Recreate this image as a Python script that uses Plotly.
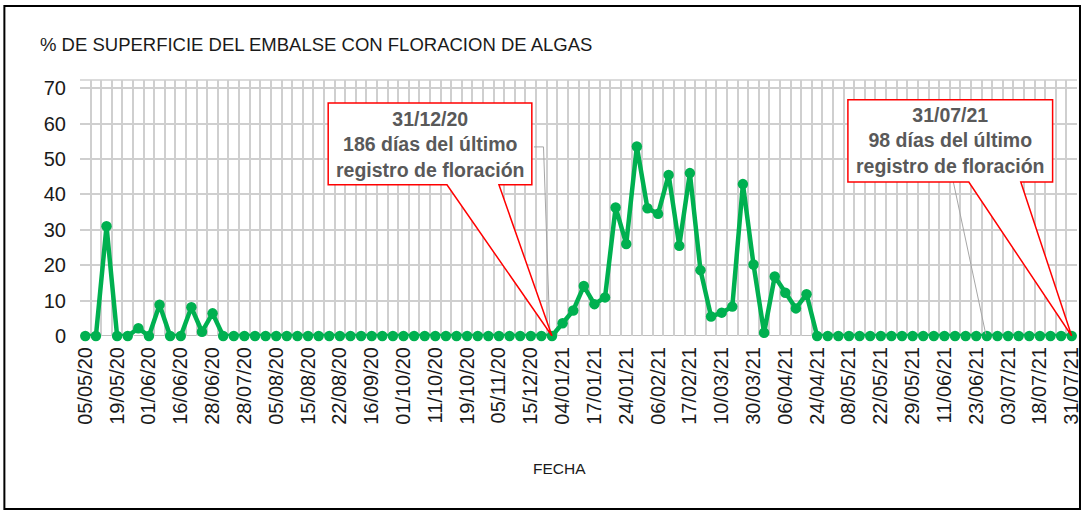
import plotly.graph_objects as go

# ---- data ----
DATES = [
    "05/05/20", "09/05/20", "14/05/20", "19/05/20", "23/05/20", "27/05/20",
    "01/06/20", "06/06/20", "11/06/20", "16/06/20", "20/06/20", "24/06/20",
    "28/06/20", "08/07/20", "18/07/20", "28/07/20", "31/07/20", "02/08/20",
    "05/08/20", "08/08/20", "12/08/20", "15/08/20", "17/08/20", "20/08/20",
    "22/08/20", "31/08/20", "08/09/20", "16/09/20", "21/09/20", "26/09/20",
    "01/10/20", "04/10/20", "08/10/20", "11/10/20", "14/10/20", "16/10/20",
    "19/10/20", "25/10/20", "30/10/20", "05/11/20", "18/11/20", "02/12/20",
    "15/12/20", "23/12/20", "31/12/20", "04/01/21", "08/01/21", "13/01/21",
    "17/01/21", "20/01/21", "22/01/21", "24/01/21", "28/01/21", "02/02/21",
    "06/02/21", "10/02/21", "13/02/21", "17/02/21", "24/02/21", "03/03/21",
    "10/03/21", "17/03/21", "23/03/21", "30/03/21", "01/04/21", "04/04/21",
    "06/04/21", "12/04/21", "18/04/21", "24/04/21", "29/04/21", "04/05/21",
    "08/05/21", "13/05/21", "17/05/21", "22/05/21", "24/05/21", "27/05/21",
    "29/05/21", "02/06/21", "07/06/21", "11/06/21", "15/06/21", "19/06/21",
    "23/06/21", "26/06/21", "30/06/21", "03/07/21", "08/07/21", "13/07/21",
    "18/07/21", "22/07/21", "27/07/21", "31/07/21",
]

PCT_BLOOM = [
    0, 0, 31, 0, 0, 2.2, 0, 8.8, 0, 0, 8.1, 1.2,
    6.4, 0, 0, 0, 0, 0, 0, 0, 0, 0, 0, 0,
    0, 0, 0, 0, 0, 0, 0, 0, 0, 0, 0, 0,
    0, 0, 0, 0, 0, 0, 0, 0, 0, 3.6, 7.2, 14.1,
    9.0, 10.9, 36.3, 26.0, 53.5, 36.1, 34.5, 45.5, 25.5, 46.0, 18.6, 5.5,
    6.6, 8.3, 42.9, 20.2, 0.9, 16.8, 12.2, 7.8, 11.8, 0, 0, 0,
    0, 0, 0, 0, 0, 0, 0, 0, 0, 0, 0, 0,
    0, 0, 0, 0, 0, 0, 0, 0, 0, 0,
]

TICK_LABELS = [
    "05/05/20", "19/05/20", "01/06/20", "16/06/20", "28/06/20", "28/07/20",
    "05/08/20", "15/08/20", "22/08/20", "16/09/20", "01/10/20", "11/10/20",
    "19/10/20", "05/11/20", "15/12/20", "04/01/21", "17/01/21", "24/01/21",
    "06/02/21", "17/02/21", "10/03/21", "30/03/21", "06/04/21", "24/04/21",
    "08/05/21", "22/05/21", "29/05/21", "11/06/21", "23/06/21", "03/07/21",
    "18/07/21", "31/07/21",
]

Y_TICKS = [0, 10, 20, 30, 40, 50, 60, 70]

CALLOUTS = [
    {"date": "31/12/20", "text": "31/12/20<br>186 días del último<br>registro de floración"},
    {"date": "31/07/21", "text": "31/07/21<br>98 días del último<br>registro de floración"},
]

# ---- layout geometry ----
W, H = 1089, 512
ML, MR, MT, MB = 80, 7, 80, 176
PW, PH = W - ML - MR, H - MT - MB

x_idx = list(range(len(DATES)))
tickvals = [DATES.index(t) for t in TICK_LABELS]

fig = go.Figure()
fig.add_trace(go.Scatter(
    x=x_idx, y=PCT_BLOOM, mode="lines+markers",
    line=dict(color="#00B050", width=4.5),
    marker=dict(color="#00B050", size=10.5),
    cliponaxis=False, hoverinfo="skip", showlegend=False,
))

GRID = "#cfcfcf"
fig.update_layout(
    width=W, height=H,
    margin=dict(l=ML, r=MR, t=MT, b=MB),
    paper_bgcolor="white", plot_bgcolor="white",
    font=dict(family="Liberation Sans, Arial, sans-serif", color="#1a1a1a"),
    title=dict(text="% DE SUPERFICIE DEL EMBALSE CON FLORACION DE ALGAS",
               x=40 / W, y=1 - 45 / H, xanchor="left", yanchor="middle",
               font=dict(size=18.5, color="#1a1a1a")),
    xaxis=dict(
        range=[-0.5, len(DATES) - 0.5],
        tickmode="array", tickvals=tickvals, ticktext=TICK_LABELS,
        tickangle=-90, tickfont=dict(size=20, color="#1a1a1a"),
        showgrid=False, ticks="", zeroline=False,
        showline=False,
        minor=dict(tickmode="linear", tick0=-0.5, dtick=1, showgrid=True,
                   gridcolor=GRID, gridwidth=1.5, ticks=""),
        ticklabelstandoff=6,
    ),
    yaxis=dict(
        range=[0, 72.3], tickmode="array", tickvals=Y_TICKS,
        tickfont=dict(size=20, color="#1a1a1a"),
        showgrid=True, gridcolor=GRID, gridwidth=1.5,
        zeroline=False, ticks="", showline=False,
        ticklabelstandoff=13,
    ),
)

shapes = []
# top border of plot area
shapes.append(dict(type="line", xref="paper", yref="paper", x0=0, x1=1, y0=1, y1=1,
                   line=dict(color=GRID, width=1.5), layer="below"))
# zero axis line
shapes.append(dict(type="line", xref="paper", yref="y", x0=0, x1=1, y0=0, y1=0,
                   line=dict(color="#bfbfbf", width=2), layer="below"))

# callouts (box geometry in data units, tip at the data point)
boxes = [
    dict(x0=22.9, x1=42.1, y0=42.7, y1=65.8, b0=34.1, b1=39.0, tx=32.5, ty=54.2,
         lead=[(42.3, 53.4), (43.2, 53.4), (43.8, 1.0)]),
    dict(x0=71.9, x1=91.2, y0=43.5, y1=66.7, b0=83.3, b1=88.2, tx=81.55, ty=55.1,
         lead=[(81.6, 46.9), (84.9, 0.5)]),
]
annotations = []
for c, b in zip(CALLOUTS, boxes):
    i = DATES.index(c["date"])
    tip_x, tip_y = x_idx[i], PCT_BLOOM[i]
    lead = " L ".join(f"{px},{py}" for px, py in b["lead"][1:])
    shapes.append(dict(type="path", xref="x", yref="y",
                       path=f"M {b['lead'][0][0]},{b['lead'][0][1]} L {lead}",
                       line=dict(color="#a6a6a6", width=1), layer="above"))
    path = (f"M {b['x0']},{b['y1']} L {b['x1']},{b['y1']} L {b['x1']},{b['y0']} "
            f"L {b['b1']},{b['y0']} L {tip_x},{tip_y} L {b['b0']},{b['y0']} "
            f"L {b['x0']},{b['y0']} Z")
    shapes.append(dict(type="path", xref="x", yref="y", path=path,
                       fillcolor="white", line=dict(color="#ff0000", width=1.5),
                       layer="above"))
    annotations.append(dict(xref="x", yref="y", x=b["tx"], y=b["ty"],
                            text=f"<b>{c['text']}</b>", showarrow=False,
                            align="center",
                            font=dict(size=19.5, color="#595959")))

annotations.append(dict(xref="paper", yref="paper",
                        x=(562 - ML) / PW, y=(MT + PH - 468) / PH,
                        xanchor="center", yanchor="middle",
                        text="FECHA", showarrow=False,
                        font=dict(size=15.5, color="#1a1a1a")))

# outer frame
shapes.append(dict(type="rect", xref="paper", yref="paper",
                   x0=(4 - ML) / PW, x1=(1085 - ML) / PW,
                   y0=(MT + PH - 509) / PH, y1=(MT + PH - 6) / PH,
                   line=dict(color="#000000", width=2), layer="above"))

fig.update_layout(shapes=shapes, annotations=annotations)
fig.write_html("out.html", config={"displayModeBar": False},
               post_script="document.body.style.margin='0';")
